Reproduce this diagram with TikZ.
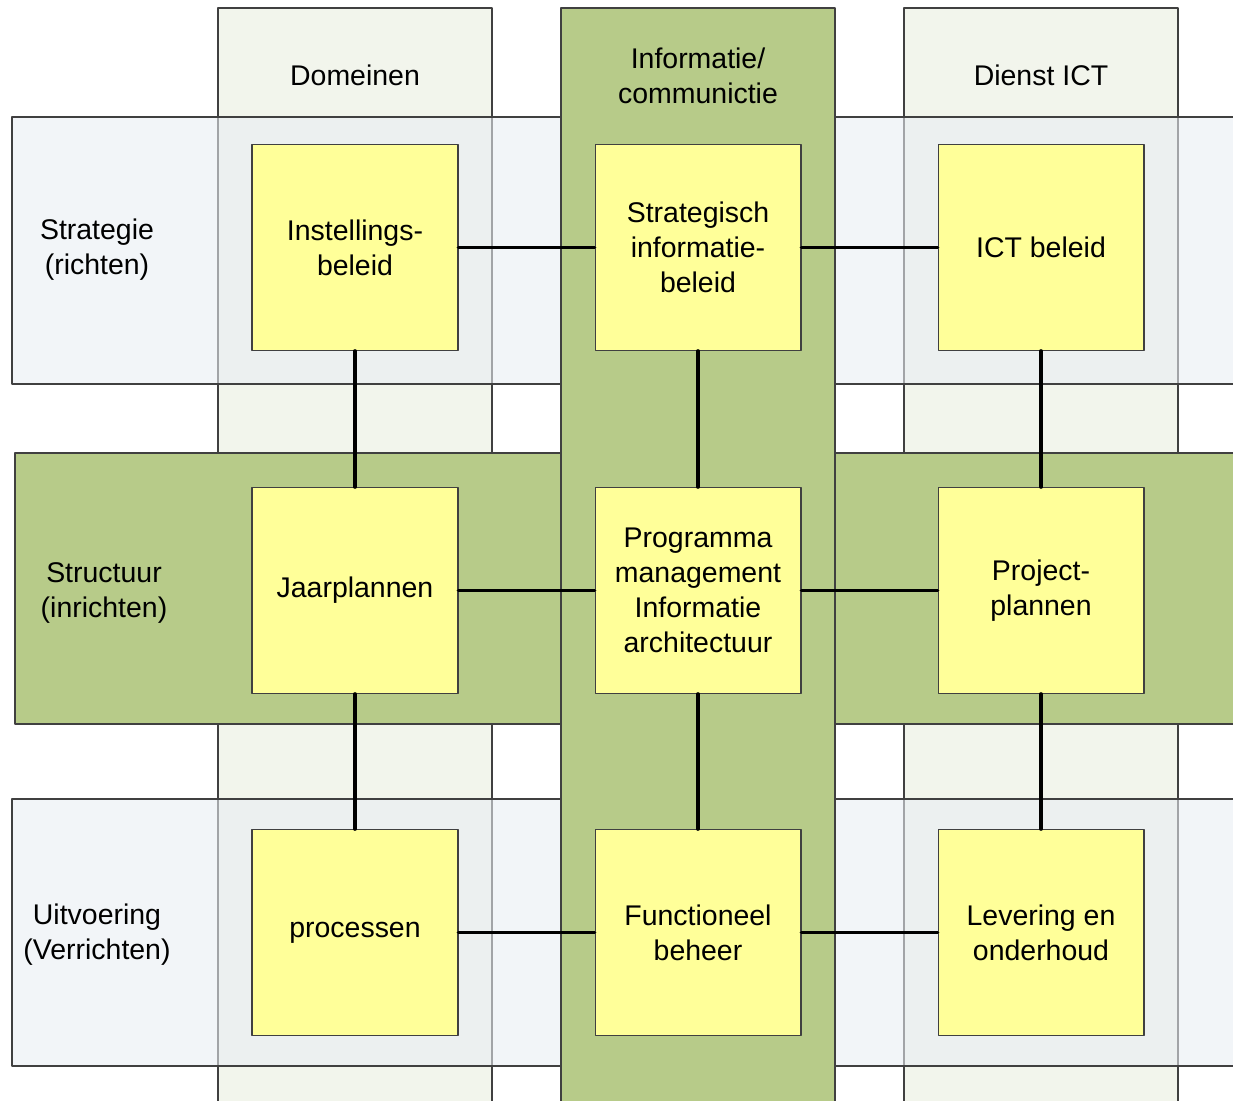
\documentclass[tikz,border=0pt]{standalone}
\usepackage{fontspec}
\setmainfont{Liberation Sans}
\usetikzlibrary{positioning}

\definecolor{kolomlicht}{RGB}{242,245,236}
\definecolor{rijlicht}{RGB}{233,238,243}
\definecolor{groen}{RGB}{183,203,137}
\definecolor{geel}{RGB}{255,255,153}
\definecolor{rand}{RGB}{64,64,64}

\begin{document}
\begin{tikzpicture}[x=0.02cm, y=-0.02cm, line cap=round, line join=round]
	
	%======================
	% PARAMETERS (pixel grid)
	%======================
	\def\ka{355}   % column centres
	\def\kb{698}
	\def\kc{1041}
	\def\ra{247.5} % row centres
	\def\rb{590.5}
	\def\rc{932.5}
	
	% Styles
	\tikzset{
		kolom/.style={draw=rand, line width=0.6pt, fill=kolomlicht},
		rij/.style={draw=rand, line width=0.6pt, fill=rijlicht, fill opacity=0.58},
		groenband/.style={draw=rand, line width=0.6pt, fill=groen},
		tekst/.style={align=center, font=\fontsize{16.2}{19.9}\selectfont},
		blok/.style={tekst, draw=rand, line width=0.6pt, fill=geel, inner sep=0pt,
			minimum width=4.12cm, minimum height=4.12cm},
		verbind/.style={line width=2.1pt, black}
	}
	
	\clip (0,0) rectangle (1233,1101);
	
	%======================
	% BANDS
	%======================
	\draw[kolom] (218,8) rectangle (492,1120);
	\draw[kolom] (904,8) rectangle (1178,1120);
	\draw[rij] (12,117) rectangle (1250,384);
	\draw[rij] (12,799) rectangle (1250,1066);
	\draw[groenband] (15,453) rectangle (1250,724);
	\draw[groenband] (561,8) rectangle (835,1120);
	
	% headers and row labels
	\node[tekst] (hdom)  at (\ka,75) {Domeinen};
	\node[tekst] (hinfo) at (\kb,76) {Informatie/\\communictie};
	\node[tekst] (hict)  at (\kc,75) {Dienst ICT};
	\node[tekst] (lstrat) at (97,250) {Strategie\\(richten)};
	\node[tekst] (lstruc) at (104,593) {Structuur\\(inrichten)};
	\node[tekst] (luitv)  at (97,935) {Uitvoering\\(Verrichten)};
	
	%======================
	% BLOCKS
	%======================
	\node[blok] (instbeleid) at (\ka,\ra) {Instellings-\\beleid};
	\node[blok] (infobeleid) at (\kb,\ra) {Strategisch\\informatie-\\beleid};
	\node[blok] (ictbeleid)  at (\kc,\ra) {ICT beleid};
	\node[blok] (jaarpl)     at (\ka,\rb) {Jaarplannen};
	\node[blok] (progman)    at (\kb,\rb) {Programma\\management\\Informatie\\architectuur};
	\node[blok] (projpl)     at (\kc,\rb) {Project-\\plannen};
	\node[blok] (proc)       at (\ka,\rc) {processen};
	\node[blok] (fbeheer)    at (\kb,\rc) {Functioneel\\beheer};
	\node[blok] (levering)   at (\kc,\rc) {Levering en\\onderhoud};
	
	% connectors
	\draw[verbind] (instbeleid) -- (infobeleid) -- (ictbeleid);
	\draw[verbind] (jaarpl) -- (progman) -- (projpl);
	\draw[verbind] (proc) -- (fbeheer) -- (levering);
	\draw[verbind] (instbeleid) -- (jaarpl) -- (proc);
	\draw[verbind] (infobeleid) -- (progman) -- (fbeheer);
	\draw[verbind] (ictbeleid) -- (projpl) -- (levering);
\end{tikzpicture}
\end{document}
